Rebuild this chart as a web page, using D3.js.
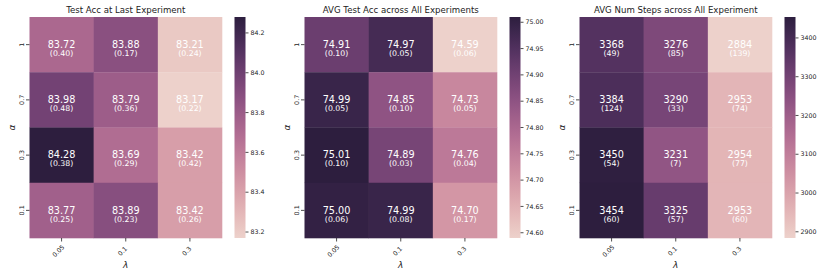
<!DOCTYPE html>
<html><head><meta charset="utf-8">
<script src="https://cdn.jsdelivr.net/npm/d3@7"></script>
<style>body{margin:0;background:#fff}svg{display:block;font-family:"DejaVu Sans",sans-serif}</style>
</head><body><svg id="c" width="830" height="277"></svg>
<script>
const alphas = ["1", "0.7", "0.3", "0.1"];
const lambdas = ["0.05", "0.1", "0.3"];
const titles = ["Test Acc at Last Experiment", "AVG Test Acc across All Experiments", "AVG Num Steps across All Experiment"];
const accLast = [[83.72,83.88,83.21],[83.98,83.79,83.17],[84.28,83.69,83.42],[83.77,83.89,83.42]];
const accLastStd = [[0.40,0.17,0.24],[0.48,0.36,0.22],[0.38,0.29,0.42],[0.25,0.23,0.26]];
const accAvg = [[74.91,74.97,74.59],[74.99,74.85,74.73],[75.01,74.89,74.76],[75.00,74.99,74.70]];
const accAvgStd = [[0.10,0.05,0.06],[0.05,0.10,0.05],[0.10,0.03,0.04],[0.06,0.08,0.17]];
const steps = [[3368,3276,2884],[3384,3290,2953],[3450,3231,2954],[3454,3325,2953]];
const stepsStd = [[49,85,139],[124,33,74],[54,7,77],[60,57,60]];
const ticks1 = [83.2,83.4,83.6,83.8,84.0,84.2];
const ticks2 = [74.60,74.65,74.70,74.75,74.80,74.85,74.90,74.95,75.00];
const ticks3 = [2900,3000,3100,3200,3300,3400];

// seaborn cubehelix_palette(as_cmap=True) defaults
function cubehelix(x){
  const g = x, a = 0.8*g*(1-g)/2, phi = 2*Math.PI*(0/3 + 0.4*x);
  const f = (p0,p1)=>Math.max(0,Math.min(1,g + a*(p0*Math.cos(phi)+p1*Math.sin(phi))));
  return d3.rgb(f(-0.14861,1.78277)*255, f(-0.29227,-0.90649)*255, f(1.97294,0)*255).formatHex();
}
const cmap = t => cubehelix(0.85 - 0.7*t);

const panels = [
  {title:titles[0], vals:accLast, std:accLastStd, ticks:ticks1, fmt:d3.format(".2f"), sfmt:d3.format(".2f"), tfmt:d3.format(".1f"), x0:29.5},
  {title:titles[1], vals:accAvg, std:accAvgStd, ticks:ticks2, fmt:d3.format(".2f"), sfmt:d3.format(".2f"), tfmt:d3.format(".2f"), x0:304.5},
  {title:titles[2], vals:steps, std:stepsStd, ticks:ticks3, fmt:d3.format("d"), sfmt:d3.format("d"), tfmt:d3.format("d"), x0:579.5}
];
const svg = d3.select("#c");
const W = 192.5, yTop = 17, yBot = 238;
const defs = svg.append("defs");

panels.forEach((p,i)=>{
  const flat = p.vals.flat();
  const mn = d3.min(flat), mx = d3.max(flat);
  const norm = d3.scaleLinear().domain([mn,mx]).range([0,1]);
  const x = d3.scaleBand().domain(lambdas).range([p.x0, p.x0+W]);
  const y = d3.scaleBand().domain(alphas).range([yTop, yBot]);
  const g = svg.append("g");
  alphas.forEach((a,r)=>lambdas.forEach((l,c)=>{
    const v = p.vals[r][c];
    g.append("rect").attr("x",x(l)).attr("y",y(a)).attr("width",x.bandwidth()+0.3).attr("height",y.bandwidth()+0.3)
      .attr("fill",cmap(norm(v)));
    const cx = x(l)+x.bandwidth()/2, cy = y(a)+y.bandwidth()/2;
    g.append("text").attr("x",cx).attr("y",cy+3.3).attr("text-anchor","middle").attr("font-size",9.7).attr("fill","#fff").text(p.fmt(v));
    g.append("text").attr("x",cx).attr("y",cy+11.3).attr("text-anchor","middle").attr("font-size",7.8).attr("fill","#fff").text("("+p.sfmt(p.std[r][c])+")");
  }));
  g.append("text").attr("x",p.x0+W/2).attr("y",13).attr("text-anchor","middle").attr("font-size",8.6).attr("fill","#222").text(p.title);
  alphas.forEach(a=>{
    const cy = y(a)+y.bandwidth()/2;
    g.append("line").attr("x1",p.x0-3.5).attr("x2",p.x0).attr("y1",cy).attr("y2",cy).attr("stroke","#222").attr("stroke-width",0.8);
    g.append("text").attr("transform",`translate(${p.x0-6},${cy}) rotate(-90)`).attr("text-anchor","middle").attr("font-size",6.3).attr("fill","#222").text(a);
  });
  g.append("text").attr("transform",`translate(${p.x0-14.5},${(yTop+yBot)/2}) rotate(-90)`).attr("text-anchor","middle").attr("font-size",9).attr("font-style","italic").attr("fill","#222").text("α");
  lambdas.forEach(l=>{
    const cx = x(l)+x.bandwidth()/2;
    g.append("line").attr("x1",cx).attr("x2",cx).attr("y1",yBot).attr("y2",yBot+3.5).attr("stroke","#222").attr("stroke-width",0.8);
    g.append("text").attr("transform",`translate(${cx-1.6},${yBot+14.6}) rotate(-45)`).attr("text-anchor","middle").attr("font-size",6.3).attr("fill","#222").text(l);
  });
  g.append("text").attr("x",p.x0+W/2).attr("y",268).attr("text-anchor","middle").attr("font-size",9).attr("font-style","italic").attr("fill","#222").text("λ");
  const cbx = p.x0+W+12.5, cbw = 11;
  const gid = "grad"+i;
  const grad = defs.append("linearGradient").attr("id",gid).attr("x1",0).attr("x2",0).attr("y1",1).attr("y2",0);
  d3.range(0,1.0001,0.05).forEach(t=>grad.append("stop").attr("offset",t).attr("stop-color",cmap(t)));
  g.append("rect").attr("x",cbx).attr("y",yTop).attr("width",cbw).attr("height",yBot-yTop).attr("fill",`url(#${gid})`);
  const cy = d3.scaleLinear().domain([mn,mx]).range([yBot,yTop]);
  p.ticks.forEach(t=>{
    const yy = cy(t);
    g.append("line").attr("x1",cbx+cbw).attr("x2",cbx+cbw+3).attr("y1",yy).attr("y2",yy).attr("stroke","#222").attr("stroke-width",0.8);
    g.append("text").attr("x",cbx+cbw+5).attr("y",yy+2.2).attr("font-size",6.3).attr("fill","#222").text(p.tfmt(t));
  });
});
</script></body></html>
